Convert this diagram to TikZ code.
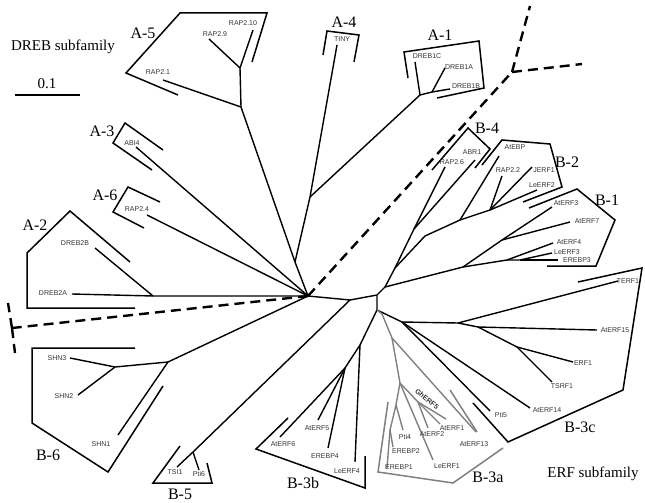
\documentclass[tikz,border=0pt]{standalone}
\usepackage{fontspec}
\setmainfont{Liberation Serif}
\setsansfont{Liberation Sans}
\begin{document}
\begin{tikzpicture}[x=1pt,y=-1pt,
  br/.style={line width=1.4pt,line join=round},
  gbr/.style={br,draw=black!50},
  brk/.style={line width=1.5pt,line join=miter},
  gbrk/.style={brk,draw=black!50},
  dsh/.style={line width=2.4pt,dash pattern=on 10pt off 6pt},
  lab/.style={font=\fontsize{7}{8}\selectfont\sffamily,text=black!80,inner sep=0},
  grp/.style={font=\fontsize{16}{16}\selectfont\rmfamily,inner sep=0},
  fam/.style={font=\fontsize{15}{15}\selectfont\rmfamily,inner sep=0}]
\useasboundingbox (0,0) rectangle (645,503);
% ---------- coordinates ----------
\coordinate (C) at (308,296);
% A-5
\coordinate (a5base) at (295,262);
\coordinate (a5n1) at (241,107);
\coordinate (a5n2) at (240,68);
\coordinate (rap21) at (163,80);
\coordinate (rap29) at (209,39);
\coordinate (rap210) at (253,30);
% A-4 / A-1
\coordinate (a4n) at (310,197);
\coordinate (tiny) at (337,45);
\coordinate (a1n) at (420,95);
\coordinate (dreb1c) at (415,62);
\coordinate (a1n2) at (432,92);
\coordinate (dreb1a) at (445,68);
\coordinate (dreb1b) at (450,89);
% A-3, A-6, A-2
\coordinate (abi4) at (136,147);
\coordinate (rap24) at (147,215);
\coordinate (a2n) at (153,296);
\coordinate (dreb2b) at (95,248);
\coordinate (dreb2a) at (72,294);
% B-6, B-5
\coordinate (b6n) at (168,362);
\coordinate (b6n2) at (115,367);
\coordinate (shn3) at (70,358);
\coordinate (shn2) at (78,395);
\coordinate (shn1) at (118,435);
\coordinate (n1) at (350,300);
\coordinate (b5n) at (193,452);
\coordinate (tsi1) at (177,467);
\coordinate (pti6) at (199,470);
% B-1, B-2, B-4
\coordinate (n2) at (377,295);
\coordinate (m) at (385,287);
\coordinate (b1n) at (463,267);
\coordinate (b1a) at (502,240);
\coordinate (aterf3) at (552,207);
\coordinate (aterf7) at (570,222);
\coordinate (b1b) at (507,260);
\coordinate (aterf4) at (553,243);
\coordinate (b1c) at (520,260);
\coordinate (leerf3) at (552,253);
\coordinate (erebp3) at (558,260);
\coordinate (k1) at (395,268);
\coordinate (b4n) at (414,229);
\coordinate (rap26) at (445,167);
\coordinate (abr1) at (475,160);
\coordinate (b2a) at (425,236);
\coordinate (b2n) at (460,220);
\coordinate (atebp) at (499,156);
\coordinate (b2m) at (490,210);
\coordinate (rap22) at (502,176);
\coordinate (jerf1) at (532,167);
\coordinate (leerf2) at (537,190);
% B-3
\coordinate (p) at (377,310);
\coordinate (b3b1) at (360,345);
\coordinate (leerf4) at (355,462);
\coordinate (b3b2) at (345,368);
\coordinate (aterf5) at (318,420);
\coordinate (erebp4) at (328,448);
\coordinate (aterf6) at (280,437);
\coordinate (s) at (402,322);
\coordinate (r1) at (458,323);
\coordinate (terf1) at (618,281);
\coordinate (r2) at (478,327);
\coordinate (aterf15) at (597,330);
\coordinate (r3) at (517,347);
\coordinate (erf1) at (573,362);
\coordinate (tsrf1) at (552,382);
\coordinate (aterf14) at (530,408);
\coordinate (pti5) at (490,411);
\coordinate (g0) at (382,314);
\coordinate (g1) at (392,338);
\coordinate (aterf13) at (476,432);
\coordinate (g2) at (400,383);
\coordinate (g3) at (418,402);
\coordinate (gherf5) at (446,419);
\coordinate (aterf1) at (440,424);
\coordinate (aterf2) at (428,428);
\coordinate (leerf1) at (433,460);
\coordinate (g4) at (396,405);
\coordinate (pti4) at (403,430);
\coordinate (g5) at (390,430);
\coordinate (erebp2) at (393,447);
\coordinate (erebp1) at (387,468);
% dashed
\coordinate (dtr) at (512,72);
\coordinate (dtr1) at (530,6);
\coordinate (dtr2) at (582,64);
\coordinate (dl) at (12,328);
\coordinate (dl1) at (8,303);
\coordinate (dl2) at (15,353);
% ---------- branches ----------
\draw[br] (rap21) -- (a5n1) -- (a5base);
\draw[br] (rap29) -- (a5n2) -- (rap210);
\draw[br] (a5n2) -- (a5n1);
\draw[br] (tiny) -- (a4n) -- (a5base) -- (C);
\draw[br] (a4n) -- (a1n) -- (dreb1c);
\draw[br] (a1n) -- (a1n2) -- (dreb1a);
\draw[br] (a1n2) -- (dreb1b);
\draw[br] (abi4) -- (C);
\draw[br] (rap24) -- (C);
\draw[br] (dreb2a) -- (a2n) -- (C);
\draw[br] (dreb2b) -- (a2n);
\draw[br] (C) -- (b6n) -- (shn1);
\draw[br] (b6n) -- (b6n2) -- (shn3);
\draw[br] (b6n2) -- (shn2);
\draw[br] (C) -- (n1) -- (b5n) -- (tsi1);
\draw[br] (b5n) -- (pti6);
\draw[br] (n1) -- (n2) -- (m) -- (b1n) -- (b1a) -- (aterf3);
\draw[br] (b1a) -- (aterf7);
\draw[br] (b1n) -- (b1b) -- (aterf4);
\draw[br] (b1b) -- (b1c) -- (leerf3);
\draw[br] (b1c) -- (erebp3);
\draw[br] (m) -- (k1) -- (b4n) -- (rap26);
\draw[br] (b4n) -- (abr1);
\draw[br] (k1) -- (b2a) -- (b2n) -- (atebp);
\draw[br] (b2n) -- (b2m) -- (rap22);
\draw[br] (b2m) -- (jerf1);
\draw[br] (b2m) -- (leerf2);
\draw[br] (n2) -- (p) -- (b3b1) -- (leerf4);
\draw[br] (b3b1) -- (b3b2) -- (aterf5);
\draw[br] (b3b2) -- (erebp4);
\draw[br] (b3b2) -- (aterf6);
\draw[br] (p) -- (s) -- (r1) -- (terf1);
\draw[br] (r1) -- (r2) -- (aterf15);
\draw[br] (r2) -- (r3) -- (erf1);
\draw[br] (r3) -- (tsrf1);
\draw[br] (s) -- (aterf14);
\draw[br] (s) -- (pti5);
\draw[gbr] (p) -- (g0) -- (g1) -- (aterf13);
\draw[gbr] (g1) -- (g2) -- (g3) -- (gherf5);
\draw[gbr] (g3) -- (aterf1);
\draw[gbr] (g3) -- (aterf2);
\draw[gbr] (g2) -- (leerf1);
\draw[gbr] (g2) -- (g4) -- (pti4);
\draw[gbr] (g4) -- (g5) -- (erebp2);
\draw[gbr] (g5) -- (erebp1);
% ---------- dashed ----------
\draw[dsh] (C) -- (dtr);
\draw[dsh] (dtr) -- (dtr1);
\draw[dsh] (dtr) -- (dtr2);
\draw[dsh] (C) -- (dl);
\draw[dsh] (dl) -- (dl1);
\draw[dsh] (dl) -- (dl2);
% ---------- brackets ----------
\draw[brk] (252,62) -- (267,13) -- (180,13) -- (126,73) -- (178,95);
\draw[brk] (323,55) -- (327,31) -- (359,35) -- (354,62);
\draw[brk] (408,78) -- (404,52) -- (479,41) -- (484,88) -- (437,98);
\draw[brk] (163,150) -- (125,123) -- (113,143) -- (152,170);
\draw[brk] (160,202) -- (128,187) -- (113,212) -- (144,228);
\draw[brk] (130,262) -- (70,211) -- (27,253) -- (27,308) -- (135,308);
\draw[brk] (135,348) -- (32,348) -- (32,423) -- (108,472) -- (163,386);
\draw[brk] (180,446) -- (153,483) -- (212,483) -- (207,463);
\draw[brk] (288,418) -- (256,449) -- (365,488) -- (365,456);
\draw[brk] (432,170) -- (468,128) -- (490,149) -- (475,168);
\draw[brk] (482,165) -- (502,140) -- (550,144) -- (562,187) -- (523,202);
\draw[brk] (529,208) -- (577,189) -- (615,220) -- (596,266) -- (547,266);
\draw[brk] (578,282) -- (642,268) -- (623,390) -- (508,442) -- (473,403);
\draw[gbrk] (388,402) -- (378,472) -- (453,483) -- (503,448);
\draw[gbrk] (450,390) -- (477,432);
% scale bar
\draw[line width=2pt] (15,95) coordinate (sb1) -- (80,95) coordinate (sb2);
\node[fam] (sbl) at (47,84) {0.1};
% ---------- labels ----------
\node[fam] (dreb) at (63,47) {DREB subfamily};
\node[fam] (erf) at (593,474) {ERF subfamily};
\node[grp] (gA5) at (143,33) {A-5};
\node[grp] (gA4) at (344,22) {A-4};
\node[grp] (gA1) at (440,35) {A-1};
\node[grp] (gA3) at (102,131) {A-3};
\node[grp] (gA6) at (105,195) {A-6};
\node[grp] (gA2) at (35,225) {A-2};
\node[grp] (gB4) at (487,128) {B-4};
\node[grp] (gB2) at (567,162) {B-2};
\node[grp] (gB1) at (607,200) {B-1};
\node[grp] (gB3c) at (580,427) {B-3c};
\node[grp] (gB3a) at (488,477) {B-3a};
\node[grp] (gB3b) at (303,483) {B-3b};
\node[grp] (gB5) at (180,494) {B-5};
\node[grp] (gB6) at (48,455) {B-6};
\node[lab] at (243,23) {RAP2.10};
\node[lab] at (215,34) {RAP2.9};
\node[lab] at (158,72) {RAP2.1};
\node[lab] at (342,39) {TINY};
\node[lab] at (427,56) {DREB1C};
\node[lab] at (459,67) {DREB1A};
\node[lab] at (466,86) {DREB1B};
\node[lab] at (132,143) {ABI4};
\node[lab] at (137,209) {RAP2.4};
\node[lab] at (75,243) {DREB2B};
\node[lab] at (53,293) {DREB2A};
\node[lab] at (57,358) {SHN3};
\node[lab] at (64,396) {SHN2};
\node[lab] at (101,444) {SHN1};
\node[lab] at (175,472) {TSI1};
\node[lab] at (199,474) {Pti6};
\node[lab] at (283,444) {AtERF6};
\node[lab] at (317,428) {AtERF5};
\node[lab] at (325,456) {EREBP4};
\node[lab] at (347,471) {LeERF4};
\node[lab] at (472,152) {ABR1};
\node[lab] at (452,162) {RAP2.6};
\node[lab] at (515,147) {AtEBP};
\node[lab] at (508,170) {RAP2.2};
\node[lab] at (544,170) {JERF1};
\node[lab] at (542,185) {LeERF2};
\node[lab] at (566,203) {AtERF3};
\node[lab] at (587,221) {AtERF7};
\node[lab] at (569,242) {AtERF4};
\node[lab] at (567,252) {LeERF3};
\node[lab] at (577,260) {EREBP3};
\node[lab] at (628,281) {TERF1};
\node[lab] at (615,330) {AtERF15};
\node[lab] at (583,363) {ERF1};
\node[lab] at (562,386) {TSRF1};
\node[lab] at (547,410) {AtERF14};
\node[lab] at (501,415) {Pti5};
\node[lab,font=\fontsize{7}{8}\selectfont\sffamily\bfseries,rotate=-38] at (427,399) {GhERF5};
\node[lab] at (452,428) {AtERF1};
\node[lab] at (432,434) {AtERF2};
\node[lab] at (405,437) {Pti4};
\node[lab] at (406,451) {EREBP2};
\node[lab] at (399,467) {EREBP1};
\node[lab] at (447,466) {LeERF1};
\node[lab] at (474,444) {AtERF13};
\end{tikzpicture}
\end{document}
